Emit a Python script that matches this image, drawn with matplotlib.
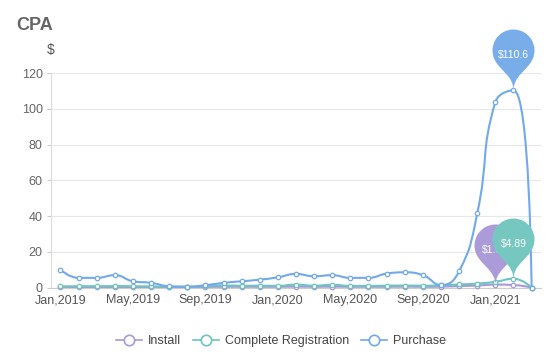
import numpy as np
import matplotlib
matplotlib.use('Agg')
import matplotlib.pyplot as plt
from matplotlib.path import Path
from matplotlib.patches import PathPatch
from matplotlib.lines import Line2D

plt.rcParams['font.family'] = ['Liberation Sans', 'DejaVu Sans']

# monthly categories Jan 2019 .. Mar 2021
month_names = ['Jan', 'Feb', 'Mar', 'Apr', 'May', 'Jun',
               'Jul', 'Aug', 'Sep', 'Oct', 'Nov', 'Dec']
months = [f'{m},{y}' for y in (2019, 2020, 2021) for m in month_names][:27]

install = [0.2, 0.3, 0.3, 0.3, 0.3, 0.2, 0.2, 0.2, 0.3, 0.4, 0.4, 0.4, 0.4,
           0.5, 0.4, 0.5, 0.4, 0.4, 0.4, 0.5, 0.4, 0.5, 0.8, 1.1, 1.63, 1.4, 0.0]
registration = [0.6, 0.7, 0.7, 0.8, 0.7, 0.6, 0.5, 0.5, 0.8, 1.1, 1.0, 1.0, 0.9,
                1.6, 1.0, 1.5, 0.9, 0.9, 1.0, 1.1, 1.0, 1.2, 1.7, 2.2, 3.2, 4.89, 0.0]
purchase = [10.0, 5.4, 5.4, 6.9, 3.5, 2.6, 0.7, 0.4, 1.3, 2.6, 3.5, 4.4, 5.7,
            7.6, 6.3, 6.9, 5.4, 5.4, 7.8, 8.5, 6.9, 1.4, 9.1, 41.5, 103.9, 110.6, 0.0]

series = [('Install', install, '#a899d8', '#ab9cd9'),
          ('Complete Registration', registration, '#6dc5bd', '#77c7c1'),
          ('Purchase', purchase, '#72a9ea', '#78ade9')]

fig = plt.figure(figsize=(5.5, 3.64), dpi=100)
ax = fig.add_axes([51 / 550, 1 - 287.5 / 364, 490 / 550, 214.2 / 364])
ax.set_xlim(-0.52, 26.52)
ax.set_ylim(0, 120)


def smooth_path(xs, ys, smooth=0.5):
    # echarts-like smoothing, done in pixel space
    pts = ax.transData.transform(np.column_stack([xs, ys]))
    n = len(pts)
    verts = [pts[0]]
    codes = [Path.MOVETO]
    cp_next = pts[0]
    for i in range(1, n):
        x, y = pts[i]
        if i == n - 1:
            cp_prev = pts[i]
            cp_after = None
        else:
            px, py = pts[i - 1]
            nx, ny = pts[i + 1]
            l0 = np.hypot(x - px, y - py)
            l1 = np.hypot(nx - x, ny - y)
            r = l1 / (l0 + l1)
            ncx = np.clip(x + (nx - px) * smooth * r, min(nx, x), max(nx, x))
            ncy = np.clip(y + (ny - py) * smooth * r, min(ny, y), max(ny, y))
            vx, vy = ncx - x, ncy - y
            cpx = np.clip(x - vx * l0 / l1, min(px, x), max(px, x))
            cpy = np.clip(y - vy * l0 / l1, min(py, y), max(py, y))
            vx, vy = x - cpx, y - cpy
            ncx, ncy = x + vx * l1 / l0, y + vy * l1 / l0
            cp_prev = (cpx, cpy)
            cp_after = (ncx, ncy)
        verts += [cp_next, cp_prev, pts[i]]
        codes += [Path.CURVE4] * 3
        cp_next = cp_after
    verts = ax.transData.inverted().transform(np.array(verts, dtype=float))
    return Path(verts, codes)


def pin_path(w=42.0, h=70.0):
    r = w / 2
    dy = r * r / (h - r)
    cy = h - r - dy
    a = np.arcsin(dy / r)
    dx = np.cos(a) * r
    tx, ty = np.sin(a), np.cos(a)
    c1, c2 = r * 0.6, r * 0.7
    arc = Path.arc(-np.degrees(a), 180 + np.degrees(a))
    verts = list(arc.vertices * r + [0, cy])
    codes = list(arc.codes)
    verts += [(-dx + tx * c1, cy - dy - ty * c1), (0, c2), (0, 0),
              (0, c2), (dx - tx * c1, cy - dy - ty * c1), (dx, cy - dy),
              (dx, cy - dy)]
    codes += [Path.CURVE4] * 6 + [Path.CLOSEPOLY]
    return Path(np.array(verts), codes)


x = np.arange(len(months))
for z, (name, vals, lc, pc) in enumerate(series):
    ax.add_patch(PathPatch(smooth_path(x, vals), fill=False, ec=lc, lw=1.5,
                           zorder=3 + z, capstyle='round', joinstyle='round'))
    ax.plot(x, vals, ls='none', marker='o', ms=3.2, mfc='white', mec=lc,
            mew=0.9, zorder=3.5 + z, clip_on=False)

# max value pins
pin = pin_path()
scale = np.max(np.abs(pin.vertices))
for z, (name, vals, lc, pc) in enumerate(series):
    i = int(np.argmax(vals))
    ax.plot([x[i]], [vals[i]], ls='none', marker=pin, ms=1.44 * scale,
            mfc=pc, mec='none', zorder=10 + 2 * z, clip_on=False)
    ax.annotate(f'${vals[i]:g}', xy=(x[i], vals[i]), xytext=(0, 35 * 0.72),
                textcoords='offset points', ha='center', va='center',
                color='white', fontsize=7.5, zorder=11 + 2 * z,
                annotation_clip=False)

ax.set_yticks(range(0, 121, 20))
ax.set_xticks(x[::4])
ax.set_xticklabels(months[::4])
ax.grid(axis='y', color='#e8e8e8', lw=0.8)
ax.set_axisbelow(True)
for s in ('top', 'right'):
    ax.spines[s].set_visible(False)
ax.spines['left'].set_color('#dcdcdc')
ax.spines['bottom'].set_color('#cccccc')
ax.tick_params(axis='y', length=3, color='#cccccc', pad=3,
               labelsize=9, labelcolor='#666666')
ax.tick_params(axis='x', length=0, pad=5, labelsize=9, labelcolor='#555555')

fig.text(16 / 550, 1 - 26 / 364, 'CPA', fontsize=13, fontweight='bold',
         color='#666666', va='center', ha='left')
fig.text(51 / 550, 1 - 50 / 364, '$', fontsize=10, color='#555555',
         va='center', ha='center')

handles = [Line2D([], [], color=lc, lw=1.2, marker='o', ms=7.5, mfc='white',
                  mec=lc, mew=1.2) for _, _, lc, _ in series]
fig.legend(handles, [s[0] for s in series], loc='center',
           bbox_to_anchor=(281 / 550, 1 - 341 / 364), ncol=3, frameon=False,
           fontsize=9, labelcolor='#444444', handlelength=2.1,
           handletextpad=0.5, columnspacing=0.9)

fig.savefig('out.png', dpi=100)
